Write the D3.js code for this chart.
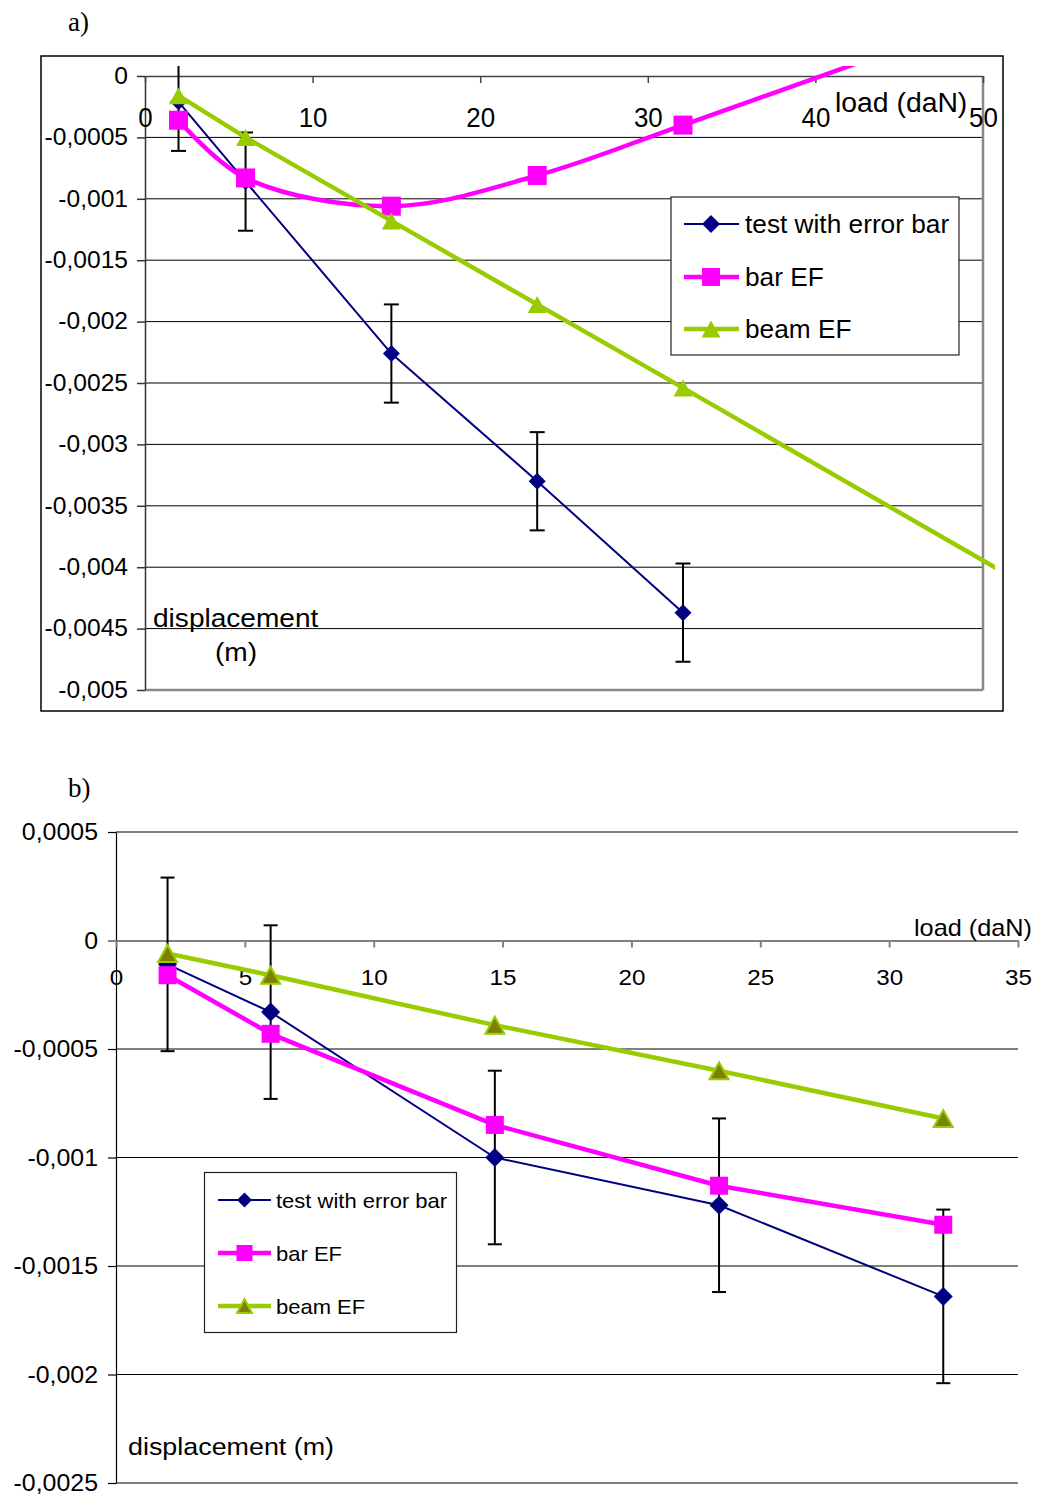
<!DOCTYPE html>
<html><head><meta charset="utf-8">
<script src="https://cdn.jsdelivr.net/npm/d3@7"></script>
<style>
body{margin:0;background:#fff}
svg{display:block}
text{font-family:"Liberation Sans",Arial,sans-serif;fill:#000}
</style>
</head><body><svg id="c" width="1037" height="1500"></svg>
<script>
// ---------- data: chart a ----------
const loadA = [2, 6, 14.7, 23.4, 32.1];
const loadAExt = [2, 6, 14.7, 23.4, 32.1, 58.2];   // last point lies beyond the axis and is clipped
const testA = [-0.00021, -0.00086, -0.00226, -0.0033, -0.00437];
const errA = [0.0004, 0.0004, 0.0004, 0.0004, 0.0004];
const barA = [-0.00036, -0.00083, -0.00106, -0.00081, -0.0004, 0.00087];
const beamA = [-0.00016, -0.0005, -0.00118, -0.00186, -0.00254, -0.00459];
const xTicksA = [0, 10, 20, 30, 40, 50];
const yTicksA = [0, -0.0005, -0.001, -0.0015, -0.002, -0.0025, -0.003, -0.0035, -0.004, -0.0045, -0.005];

// ---------- data: chart b ----------
const loadB = [2, 6, 14.7, 23.4, 32.1];
const testB = [-0.00011, -0.00033, -0.001, -0.00122, -0.00164];
const errB = [0.0004, 0.0004, 0.0004, 0.0004, 0.0004];
const barB = [-0.00016, -0.00043, -0.00085, -0.00113, -0.00131];
const beamB = [-0.00006, -0.00016, -0.00039, -0.0006, -0.00082];
const xTicksB = [0, 5, 10, 15, 20, 25, 30, 35];
const yTicksB = [0.0005, 0, -0.0005, -0.001, -0.0015, -0.002, -0.0025];

const seriesNames = ["test with error bar", "bar EF", "beam EF"];
const xTitle = "load (daN)";
const yTitle = "displacement (m)";

const NAVY = "#000080", MAG = "#FF00FF", GREEN = "#99CC00", OLIVE = "#808000";

const svg = d3.select("#c");
const fmt = d => d === 0 ? "0" : String(d).replace(".", ",");

function styleAxis(g, size, sx, color, width) {
  g.attr("font-size", null).attr("font-family", null);
  g.select(".domain").attr("stroke", color).attr("stroke-width", width);
  g.selectAll(".tick line").attr("stroke", color).attr("stroke-width", width);
  g.selectAll(".tick text").style("font-size", size + "px").attr("fill", "#000").each(function () {
    const t = d3.select(this);
    const x = +t.attr("x") || 0;
    t.attr("x", x / sx).attr("transform", `scale(${sx},1)`);
  });
}
function label(g, x, y, s, size, sx, family) {
  const t = g.append("text").attr("transform", `translate(${x},${y}) scale(${sx},1)`)
    .style("font-size", size + "px").text(s);
  if (family) t.style("font-family", family);
  return t;
}
const diamond = r => `M0,${-r}L${r},0L0,${r}L${-r},0Z`;
const square = r => `M${-r},${-r}H${r}V${r}H${-r}Z`;
const triangle = (w, h) => `M0,${-h / 2}L${w / 2},${h / 2}L${-w / 2},${h / 2}Z`;

function errorBars(g, xs, ys, es, x, y, cap) {
  xs.forEach((d, i) => {
    const px = x(d), y1 = y(ys[i] + es[i]), y2 = y(ys[i] - es[i]);
    g.append("line").attr("x1", px).attr("x2", px).attr("y1", y1).attr("y2", y2).attr("stroke", "#000").attr("stroke-width", 2);
    [y1, y2].forEach(yy => g.append("line").attr("x1", px - cap / 2).attr("x2", px + cap / 2)
      .attr("y1", yy).attr("y2", yy).attr("stroke", "#000").attr("stroke-width", 2));
  });
}
function series(g, xs, ys, x, y, color, width, curve, markerPath, fill, stroke, sw) {
  const pts = xs.map((d, i) => [x(d), y(ys[i])]);
  g.append("path").attr("d", d3.line().curve(curve)(pts)).attr("fill", "none")
    .attr("stroke", color).attr("stroke-width", width).attr("stroke-linejoin", "round");
  pts.forEach(p => g.append("path").attr("d", markerPath).attr("transform", `translate(${p[0]},${p[1]})`)
    .attr("fill", fill).attr("stroke", stroke || "none").attr("stroke-width", sw || 0));
}

// ================= CHART A =================
{
  const g = svg.append("g");
  label(g, 68, 31, "a)", 27, 1, "'Liberation Serif','Times New Roman',serif");
  g.append("rect").attr("x", 41).attr("y", 56).attr("width", 962).attr("height", 655)
    .attr("fill", "none").attr("stroke", "#000").attr("stroke-width", 1.5);

  const x = d3.scaleLinear().domain([0, 50]).range([145, 983]);
  const y = d3.scaleLinear().domain([-0.005, 0]).range([690, 76]);

  g.append("g").selectAll("line").data(yTicksA.filter(d => d !== 0 && d !== -0.005)).join("line")
    .attr("x1", x(0)).attr("x2", x(50)).attr("y1", d => y(d)).attr("y2", d => y(d))
    .attr("stroke", "#000").attr("stroke-width", 1);
  g.append("line").attr("x1", x(0)).attr("x2", x(50)).attr("y1", y(-0.005)).attr("y2", y(-0.005)).attr("stroke", "#888").attr("stroke-width", 2.5);
  g.append("line").attr("x1", x(50)).attr("x2", x(50)).attr("y1", y(0)).attr("y2", y(-0.005)).attr("stroke", "#888").attr("stroke-width", 2.5);

  const ya = g.append("g").attr("transform", `translate(${x(0)},0)`)
    .call(d3.axisLeft(y).tickValues(yTicksA).tickSize(8).tickSizeOuter(0).tickPadding(9).tickFormat(fmt));
  styleAxis(ya, 23, 1.07, "#333", 1.5);

  const xa = g.append("g").attr("transform", `translate(0,${y(0)})`)
    .call(d3.axisBottom(x).tickValues(xTicksA).tickSize(7).tickSizeOuter(0).tickPadding(25).tickFormat(d3.format("d")));
  styleAxis(xa, 27, 0.96, "#444", 1.5);

  label(g, 835, 112, xTitle, 27, 1.05);
  label(g, 153, 627, "displacement", 26, 1.08);
  label(g, 215, 661, "(m)", 26, 1.08);

  svg.append("defs").append("clipPath").attr("id", "clipA").append("rect")
    .attr("x", 41).attr("y", 66).attr("width", 954).attr("height", 645);
  const pg = g.append("g").attr("clip-path", "url(#clipA)");
  errorBars(pg, loadA, testA, errA, x, y, 15);
  series(pg, loadA, testA, x, y, NAVY, 2, d3.curveLinear, diamond(8.5), NAVY);
  series(pg, loadAExt, barA, x, y, MAG, 4.5, d3.curveCatmullRom.alpha(0.5), square(9.5), MAG);
  series(pg, loadAExt, beamA, x, y, GREEN, 4.5, d3.curveLinear, triangle(19, 17), GREEN);

  const lg = g.append("g");
  lg.append("rect").attr("x", 671).attr("y", 197).attr("width", 288).attr("height", 158)
    .attr("fill", "#fff").attr("stroke", "#222").attr("stroke-width", 1.2);
  const rowsA = [224, 277, 329];
  const legA = [
    {c: NAVY, w: 2, m: diamond(9), f: NAVY},
    {c: MAG, w: 4.5, m: square(9), f: MAG},
    {c: GREEN, w: 4.5, m: triangle(19, 17), f: GREEN}
  ];
  legA.forEach((s, i) => {
    lg.append("line").attr("x1", 684).attr("x2", 739).attr("y1", rowsA[i]).attr("y2", rowsA[i]).attr("stroke", s.c).attr("stroke-width", s.w);
    lg.append("path").attr("d", s.m).attr("transform", `translate(711,${rowsA[i]})`).attr("fill", s.f);
    label(lg, 745, rowsA[i] + 9, seriesNames[i], 25, 1.05);
  });
}

// ================= CHART B =================
{
  const g = svg.append("g");
  label(g, 68, 797, "b)", 27, 1, "'Liberation Serif','Times New Roman',serif");

  const x = d3.scaleLinear().domain([0, 35]).range([116, 1018]);
  const y = d3.scaleLinear().domain([-0.0025, 0.0005]).range([1483, 832]);

  g.append("g").selectAll("line").data(yTicksB.filter(d => d !== 0)).join("line")
    .attr("x1", x(0)).attr("x2", x(35)).attr("y1", d => y(d)).attr("y2", d => y(d))
    .attr("stroke", "#000").attr("stroke-width", 1.2);

  const ya = g.append("g").attr("transform", `translate(${x(0)},0)`)
    .call(d3.axisLeft(y).tickValues(yTicksB).tickSize(8).tickSizeOuter(0).tickPadding(10).tickFormat(fmt));
  styleAxis(ya, 23.5, 1.06, "#000", 1.2);
  ya.selectAll(".tick").filter(d => d === 0).select("line").attr("stroke", "#808080").attr("stroke-width", 2);

  const xa = g.append("g").attr("transform", `translate(0,${y(0)})`)
    .call(d3.axisBottom(x).tickValues(xTicksB).tickSize(7).tickSizeOuter(0).tickPadding(22).tickFormat(d3.format("d")));
  styleAxis(xa, 22, 1.1, "#808080", 2);

  label(g, 914, 936, xTitle, 23, 1.1);
  label(g, 128, 1455, yTitle, 24, 1.12);

  errorBars(g, loadB, testB, errB, x, y, 14);
  series(g, loadB, testB, x, y, NAVY, 2, d3.curveLinear, diamond(9.5), NAVY);
  series(g, loadB, barB, x, y, MAG, 4.5, d3.curveLinear, square(9), MAG);
  series(g, loadB, beamB, x, y, GREEN, 4.5, d3.curveLinear, triangle(19, 17), OLIVE, GREEN, 2);

  const lg = g.append("g");
  lg.append("rect").attr("x", 204.5).attr("y", 1172.5).attr("width", 252).attr("height", 160)
    .attr("fill", "#fff").attr("stroke", "#222").attr("stroke-width", 1.2);
  const rowsB = [1200, 1253, 1306];
  const legB = [
    {c: NAVY, w: 2, m: diamond(7.5), f: NAVY},
    {c: MAG, w: 4.5, m: square(8), f: MAG},
    {c: GREEN, w: 4.5, m: triangle(15, 14), f: OLIVE, s: GREEN}
  ];
  legB.forEach((s, i) => {
    lg.append("line").attr("x1", 218).attr("x2", 271).attr("y1", rowsB[i]).attr("y2", rowsB[i]).attr("stroke", s.c).attr("stroke-width", s.w);
    lg.append("path").attr("d", s.m).attr("transform", `translate(244.5,${rowsB[i]})`).attr("fill", s.f)
      .attr("stroke", s.s || "none").attr("stroke-width", s.s ? 2 : 0);
    label(lg, 276, rowsB[i] + 8, seriesNames[i], 20, 1.1);
  });
}
</script>
</body></html>
